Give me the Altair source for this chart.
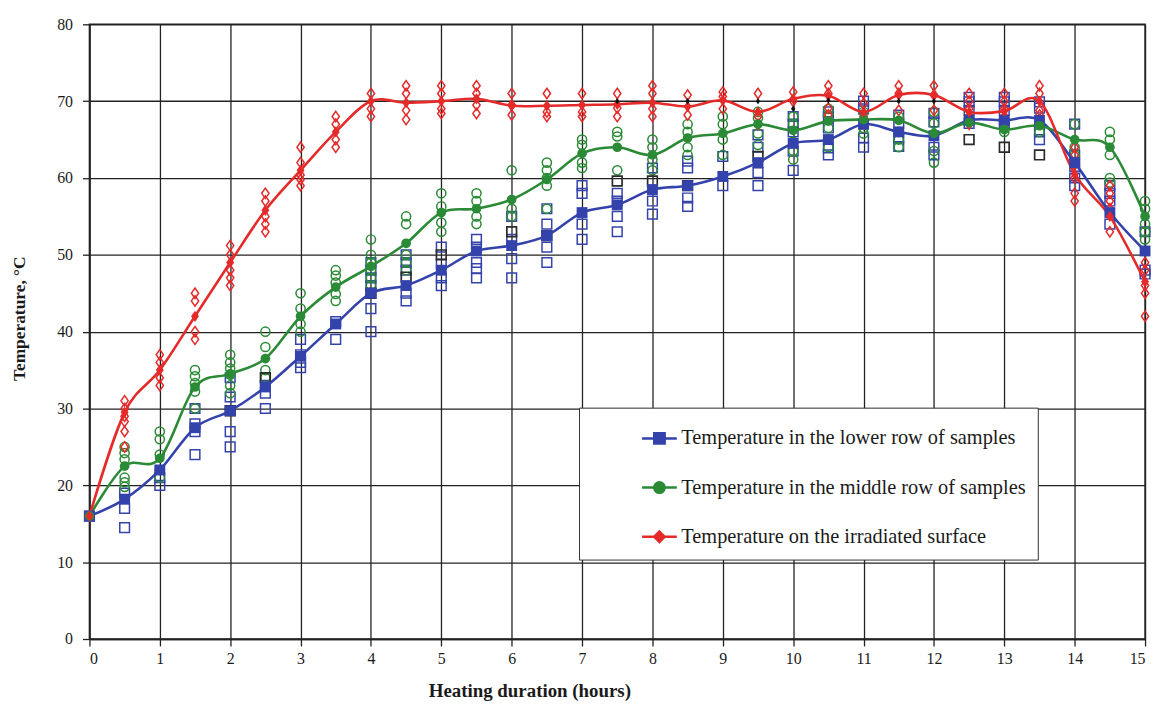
import altair as alt
import pandas as pd

HOURS = [0, 0.5, 1, 1.5, 2, 2.5, 3, 3.5, 4, 4.5, 5, 5.5, 6, 6.5, 7, 7.5,
         8, 8.5, 9, 9.5, 10, 10.5, 11, 11.5, 12, 12.5, 13, 13.5, 14, 14.5, 15]

SERIES = ["Temperature in the lower row of samples",
          "Temperature in the middle row of samples",
          "Temperature on the irradiated surface"]
COLORS = ["#3443ab", "#2a8a35", "#e52a2a"]

LOWER_MEAN = [16, 18.2, 22, 27.5, 29.7, 32.8, 36.8, 41, 45, 46, 48, 50.5, 51.2, 52.5, 55.5, 56.5,
              58.5, 59, 60.2, 62, 64.5, 65, 67, 66, 65.5, 67.5, 67.5, 67.5, 62, 55.5, 50.5]
MIDDLE_MEAN = [16, 22.5, 23.5, 32.8, 34.5, 36.5, 42, 45.8, 48.5, 51.5, 55.5, 56, 57.2, 59.8, 63.2, 64,
               63, 65.2, 65.8, 67, 66.2, 67.4, 67.6, 67.5, 65.8, 67.2, 66.3, 66.8, 65, 64, 55]
SURFACE_MEAN = [16, 29.5, 35, 42, 49, 55.8, 61, 66, 70, 69.8, 70, 70.3, 69.4, 69.4, 69.5, 69.6,
                69.8, 69.3, 70.1, 68.6, 70.3, 70.7, 68.6, 70.8, 70.8, 68.6, 68.7, 70, 60.5, 55, 46.5]

LOWER_SAMPLES = [[16], [19, 17, 14.5], [21, 20], [30, 28, 27, 24], [34, 31.5, 27, 25],
                 [33, 32, 30], [39, 37, 36, 35.3], [41.3, 39], [49, 48, 47, 46, 43, 40],
                 [50, 49, 48, 45, 44], [51, 48.8, 47, 46], [52, 51, 49, 48.2, 47],
                 [55, 52, 49.5, 47], [56, 54, 51, 49], [59, 58, 54, 52], [58, 57, 55, 53],
                 [61.3, 57, 55.3], [62.2, 61.3, 57.4, 56.3], [62.8, 59], [65.6, 64, 60.7, 59],
                 [68, 67, 66, 63.5, 61], [68.6, 67.8, 66.5, 63.9, 63], [70, 69, 65.2, 64],
                 [68.2, 67.1, 65.2, 64.1], [68.4, 67.3, 64, 63], [70.5, 69.9, 68.8, 67.1],
                 [70.5, 69.9, 68.8, 67.1], [69.9, 69.1, 66, 65], [67, 63, 61.5, 60, 59],
                 [59, 58, 57, 54], [53, 48, 47.5]]
MIDDLE_SAMPLES = [[], [25, 24.2, 23.4, 21, 20.4, 19.8], [27, 26, 24, 22, 21], [35, 34.2, 33.3, 32.2, 30],
                  [37, 36, 35.2, 34.4, 33, 32], [40, 38, 35, 34], [45, 43, 41, 40],
                  [48, 47.3, 46.4, 44.9, 44], [52, 50, 49, 48, 47, 46], [55, 54, 50, 49, 48],
                  [58, 56.3, 54.2, 53], [58, 57, 55, 54], [61, 56, 55], [62, 61, 60, 59, 56],
                  [65, 64.3, 62, 61.3], [66, 65.4, 61], [65, 64, 62.4, 61], [67, 66, 64, 63],
                  [68, 67, 65, 63], [68.6, 67.8, 65.8, 64.3], [68, 67, 64.7, 63.5, 62.4],
                  [69, 68.2, 66.5, 65, 64], [68.6, 66.5, 65.8], [68, 66, 65, 64],
                  [68.6, 67.1, 63.5, 62], [67.8], [67, 66], [67, 66], [67, 64, 63],
                  [66, 65, 63, 60, 59.4], [57, 56, 54, 53, 52]]
SURFACE_SAMPLES = [[], [31, 30, 29, 28.3, 27, 25], [37, 36, 34, 33], [45, 44, 40, 39],
                   [51.2, 50, 48, 47, 46], [58, 57, 55, 54, 53], [64, 62, 60.4, 59.8, 59],
                   [68, 67, 65, 64], [71, 69, 68], [72, 71, 68.8, 67.6], [72, 71, 69, 68.4],
                   [72, 71, 69.5, 68.4], [71, 69.5, 68.2], [71, 68.6, 68], [71, 68.6, 68],
                   [71, 69.1, 68], [72, 71, 69, 68], [70.8, 68.2], [71.2, 70.6, 69], [71, 68, 67],
                   [71.2, 70], [72, 71, 69.1, 68.2], [71, 69.7, 68, 67], [72, 71, 68.8],
                   [72, 70.8, 68.8], [71, 70, 69, 68, 67], [71, 70, 69, 68, 67],
                   [72, 71, 68.8, 68.2], [64, 63, 61.7, 60, 58, 57], [59, 58, 57, 56, 53],
                   [49, 48, 46, 45, 42]]

DARK_HOURS = [2, 2.5, 4, 4.5, 5, 6, 6.5, 7.5, 8, 8.5, 9.5, 12.5, 13, 13.5]
DARK_VALUES = [29.7, 34, 45, 47.1, 50, 53, 52.5, 59.6, 59.6, 59, 62.8, 65, 64, 63]
DOT_HOURS = [7.5, 8.5, 9.5, 10, 10.5, 11.5, 12]
DOT_VALUES = [70, 70, 70, 69, 70.1, 70, 70]

DIAMOND = "M0,-1L0.7,0L0,1L-0.7,0Z"
LEGEND_PATHS = [
    "M-1,0H1M-0.3,-0.3H0.3V0.3H-0.3Z",
    "M-1,0H1M-0.3,0A0.3,0.3 0 1,0 0.3,0A0.3,0.3 0 1,0 -0.3,0Z",
    "M-1,0H1M0,-0.3L0.3,0L0,0.3L-0.3,0Z",
]

FONT = "Liberation Serif"

means_rows = []
sample_rows = []
for s, col, mean, samples in zip(SERIES, COLORS, [LOWER_MEAN, MIDDLE_MEAN, SURFACE_MEAN],
                                 [LOWER_SAMPLES, MIDDLE_SAMPLES, SURFACE_SAMPLES]):
    for h, m, vals in zip(HOURS, mean, samples):
        means_rows.append({"hour": h, "value": m, "series": s, "col": col})
        for v in vals:
            sample_rows.append({"hour": h, "value": v, "series": s})
means_df = pd.DataFrame(means_rows)
samples_df = pd.DataFrame(sample_rows)
dark_df = pd.DataFrame({"hour": DARK_HOURS, "value": DARK_VALUES})
dot_df = pd.DataFrame({"hour": DOT_HOURS, "value": DOT_VALUES})


def xenc():
    return alt.X("hour:Q", scale=alt.Scale(domain=[0, 15], nice=False, zero=False),
                 axis=alt.Axis(values=list(range(16)), title="Heating duration (hours)",
                               titleX=443, titleY=52, titleBaseline="middle", titleAlign="center",
                               titleFontSize=19, labelPadding=5, tickSize=7, format="d"))


def yenc():
    return alt.Y("value:Q", scale=alt.Scale(domain=[0, 80], nice=False),
                 axis=alt.Axis(values=list(range(0, 81, 10)), title="Temperature, \u00b0C",
                               titleX=-70, titleY=296, titleAngle=-90, titleBaseline="middle",
                               titleAlign="center", titleFontSize=17.5, labelPadding=10, tickSize=7))


layers = []
sample_shapes = ["square", "circle", DIAMOND]
sample_sizes = [95, 85, 110]
for s, col, shp, sz in zip(SERIES, COLORS, sample_shapes, sample_sizes):
    layers.append(
        alt.Chart(samples_df).transform_filter(alt.datum.series == s)
        .mark_point(shape=shp, size=sz, filled=False, color=col, strokeWidth=1.5, opacity=1)
        .encode(x=xenc(), y=yenc())
    )

layers.append(
    alt.Chart(dark_df).mark_point(shape="square", size=95, filled=False, color="#2a2a2a",
                                  strokeWidth=1.7, opacity=1)
    .encode(x=xenc(), y=yenc())
)

layers.append(
    alt.Chart(means_df).mark_line(interpolate="cardinal", strokeWidth=2.6)
    .encode(x=xenc(), y=yenc(), detail="series:N", color=alt.Color("col:N", scale=None))
)

mean_shapes = ["square", "circle", DIAMOND]
mean_sizes = [120, 95, 130]
for s, col, shp, sz in zip(SERIES, COLORS, mean_shapes, mean_sizes):
    layers.append(
        alt.Chart(means_df).transform_filter(alt.datum.series == s)
        .mark_point(shape=shp, size=sz, filled=True, color=col, opacity=1)
        .encode(x=xenc(), y=yenc())
    )

layers.append(
    alt.Chart(dot_df).mark_point(shape=DIAMOND, size=40, filled=True, color="#111111", opacity=1)
    .encode(x=xenc(), y=yenc())
)

leg = alt.Legend(orient="none", legendX=493, legendY=386, title=None,
                 fillColor="white", strokeColor="#333333", padding=12, symbolOffset=50,
                 symbolSize=1225, symbolStrokeWidth=2.5, rowPadding=19.5,
                 labelFont=FONT, labelFontSize=20.5, labelColor="#1a1a1a", labelOffset=3,
                 labelLimit=600,
                 labelExpr="datum.label + '\u2003\u2003'")
color_scale = alt.Scale(domain=SERIES, range=COLORS)
layers.append(
    alt.Chart(means_df).transform_filter("false")
    .mark_point(filled=True, opacity=1)
    .encode(x=xenc(), y=yenc(),
            fill=alt.Fill("series:N", scale=color_scale, legend=leg),
            stroke=alt.Stroke("series:N", scale=color_scale, legend=leg),
            shape=alt.Shape("series:N", scale=alt.Scale(domain=SERIES, range=LEGEND_PATHS), legend=leg))
)

chart = alt.layer(*layers).properties(
    width=1063, height=619,
    background="white",
    autosize=alt.AutoSizeParams(type="none"),
    padding={"left": 82, "top": 14, "right": 8, "bottom": 60},
).configure_view(
    stroke="#222222", strokeWidth=1.5
).configure_axis(
    labelFont=FONT, labelFontSize=16, labelColor="#1a1a1a",
    titleFont=FONT, titleFontSize=15, titleFontWeight="bold", titleColor="#1a1a1a",
    gridColor="#222222", gridWidth=1.3, gridOpacity=1,
    domainColor="#222222", domainWidth=1.5, tickColor="#222222", tickWidth=1.3,
)

chart.save("out.html", embed_options={"renderer": "svg", "actions": False})
